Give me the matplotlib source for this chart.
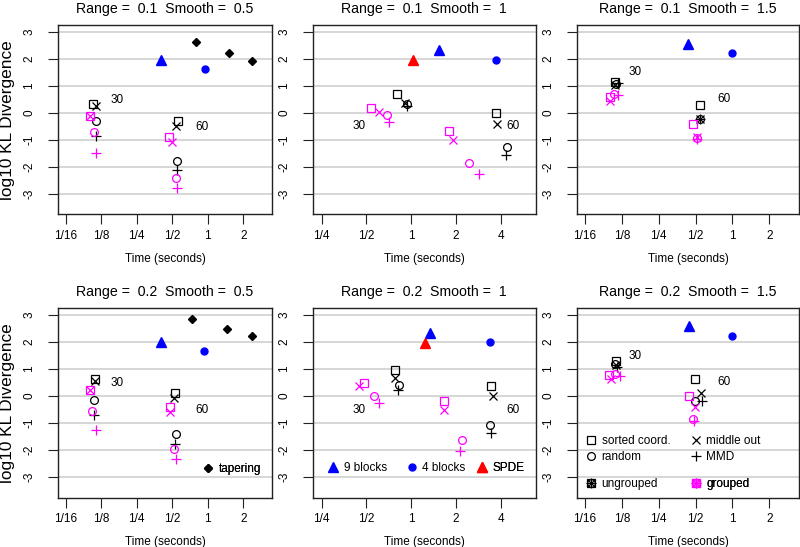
import matplotlib
matplotlib.use("Agg")
import matplotlib.pyplot as plt
from matplotlib.lines import Line2D
from matplotlib.legend_handler import HandlerTuple

plt.rcParams["font.family"] = ["Liberation Sans", "DejaVu Sans"]
plt.rcParams["axes.unicode_minus"] = False

W, H = 800, 547

# panel order: (range, smooth)
ranges = ["0.1", "0.1", "0.1", "0.2", "0.2", "0.2"]
smooths = ["0.5", "1", "1.5", "0.5", "1", "1.5"]

methods = ["sorted coord.", "middle out", "random", "MMD"]

# times (seconds) and log10 KL, each row: sorted, middle out, random, MMD
ung_t30 = [[0.107, 0.113, 0.112, 0.113], [0.805, 0.907, 0.940, 0.930],
           [0.110, 0.110, 0.111, 0.116], [0.111, 0.110, 0.109, 0.109],
           [0.777, 0.781, 0.831, 0.818], [0.111, 0.112, 0.110, 0.113]]
ung_kl30 = [[0.35, 0.24, -0.30, -0.87], [0.71, 0.36, 0.34, 0.24],
            [1.16, 1.05, 1.09, 1.10], [0.64, 0.54, -0.15, -0.72],
            [0.94, 0.67, 0.41, 0.23], [1.29, 1.13, 1.19, 1.07]]
ung_t60 = [[0.563, 0.536, 0.549, 0.549], [3.68, 3.76, 4.38, 4.32],
           [0.543, 0.545, 0.545, 0.545], [0.527, 0.520, 0.538, 0.527],
           [3.41, 3.52, 3.36, 3.43], [0.491, 0.551, 0.491, 0.561]]
ung_kl60 = [[-0.30, -0.50, -1.78, -2.13], [-0.01, -0.40, -1.25, -1.55],
            [0.30, -0.23, -0.23, -0.24], [0.11, -0.08, -1.41, -1.77],
            [0.36, 0.00, -1.09, -1.37], [0.61, 0.12, -0.19, -0.19]]
grp_t30 = [[0.100, 0.100, 0.108, 0.112], [0.539, 0.610, 0.683, 0.712],
           [0.099, 0.099, 0.108, 0.117], [0.0996, 0.0996, 0.104, 0.113],
           [0.483, 0.447, 0.565, 0.603], [0.098, 0.102, 0.109, 0.121]]
grp_kl30 = [[-0.13, -0.13, -0.72, -1.49], [0.18, 0.05, -0.07, -0.32],
            [0.59, 0.45, 0.71, 0.67], [0.23, 0.23, -0.55, -1.27],
            [0.48, 0.35, 0.01, -0.26], [0.78, 0.64, 0.80, 0.72]]
grp_t60 = [[0.473, 0.496, 0.536, 0.546], [1.80, 1.915, 2.44, 2.86],
           [0.480, 0.510, 0.512, 0.512], [0.482, 0.475, 0.514, 0.534],
           [1.666, 1.658, 2.18, 2.13], [0.438, 0.490, 0.480, 0.486]]
grp_kl60 = [[-0.90, -1.08, -2.41, -2.80], [-0.66, -1.00, -1.86, -2.26],
            [-0.40, -0.90, -0.93, -0.95], [-0.41, -0.60, -1.95, -2.32],
            [-0.20, -0.51, -1.63, -2.04], [-0.02, -0.41, -0.84, -0.92]]

# tapering only for smooth = 0.5
taper_t = {0: [0.791, 1.516, 2.39], 3: [0.740, 1.445, 2.38]}
taper_kl = {0: [2.64, 2.24, 1.92], 3: [2.85, 2.48, 2.20]}
blk9_t = [0.402, 1.526, 0.431, 0.404, 1.33, 0.444]
blk9_kl = [1.97, 2.32, 2.55, 2.01, 2.33, 2.57]
blk4_t = [0.949, 3.68, 0.99, 0.928, 3.36, 0.985]
blk4_kl = [1.64, 1.97, 2.21, 1.67, 2.00, 2.21]
spde_t = {1: 1.03, 4: 1.24}
spde_kl = {1: 1.95, 4: 1.95}

# "30" / "60" annotation positions
lab30 = [(0.169, 0.49), (0.447, -0.50), (0.160, 1.50),
         (0.169, 0.48), (0.447, -0.53), (0.160, 1.49)]
lab60 = [(0.90, -0.53), (4.79, -0.50), (0.853, 0.51),
         (0.899, -0.51), (4.79, -0.51), (0.853, 0.51)]

ticks_wide = [1 / 16, 1 / 8, 1 / 4, 1 / 2, 1, 2]
labels_wide = ["1/16", "1/8", "1/4", "1/2", "1", "2"]
ticks_mid = [1 / 4, 1 / 2, 1, 2, 4]
labels_mid = ["1/4", "1/2", "1", "2", "4"]

MAG = "#FF00FF"
BLUE = "#0000FF"
RED = "#FF0000"
SMALL = 8.5

mk = {"s": dict(marker="s", ms=5.2), "x": dict(marker="x", ms=5.6),
      "o": dict(marker="o", ms=5.6), "+": dict(marker="+", ms=7.2)}
mcodes = ["s", "x", "o", "+"]


def open_pts(ax, ts, ks, color):
    for t, k, c in zip(ts, ks, mcodes):
        ax.plot([t], [k], linestyle="None", color=color, mfc="none",
                mew=0.9, **mk[c])


def key(ax, x, y, label, handle):
    leg = ax.legend([handle], [label], loc="center left",
                    bbox_to_anchor=(x, y), frameon=False, borderpad=0,
                    borderaxespad=0, handlelength=0.8, handletextpad=0.5,
                    fontsize=SMALL,
                    handler_map={tuple: HandlerTuple(ndivide=1, pad=0)})
    ax.add_artist(leg)


def combo(color):
    return tuple(Line2D([], [], linestyle="None", color=color, mfc="none",
                        mew=0.9, **mk[c]) for c in mcodes)


fig = plt.figure(figsize=(W / 100, H / 100), dpi=100)
cols = [(58, 272), (313, 535.7), (577, 799)]
rows = [(25, 214.4), (307.7, 497.7)]

for i in range(6):
    r, c = divmod(i, 3)
    x0, x1 = cols[c]
    y0, y1 = rows[r]
    ax = fig.add_axes([x0 / W, 1 - y1 / H, (x1 - x0) / W, (y1 - y0) / H])
    ax.set_xscale("log", base=2)
    if c == 1:
        ax.set_xlim(0.2186, 6.845)
        ax.set_xticks(ticks_mid, labels_mid)
    else:
        ax.set_xlim(0.0537, 3.50)
        ax.set_xticks(ticks_wide, labels_wide)
    ax.minorticks_off()
    ax.set_ylim(-3.76, 3.26)
    ax.set_yticks(range(-3, 4), [str(v) for v in range(-3, 4)])
    for yv in range(-3, 4):
        ax.axhline(yv, color="#cccccc", lw=1.1, zorder=0)
    ax.tick_params(direction="out", length=7.2, width=0.8, labelsize=SMALL,
                   color="#222222")
    ax.tick_params(axis="y", labelrotation=90, pad=9)
    ax.tick_params(axis="x", pad=4)
    for lbl in ax.get_yticklabels():
        lbl.set_va("center")
    for s in ax.spines.values():
        s.set_linewidth(1.0)
        s.set_color("#222222")

    open_pts(ax, ung_t30[i], ung_kl30[i], "black")
    open_pts(ax, ung_t60[i], ung_kl60[i], "black")
    open_pts(ax, grp_t30[i], grp_kl30[i], MAG)
    open_pts(ax, grp_t60[i], grp_kl60[i], MAG)

    if i in taper_t:
        ax.plot(taper_t[i], taper_kl[i], linestyle="None", marker="D",
                ms=3.6, color="black")
    ax.plot([blk9_t[i]], [blk9_kl[i]], linestyle="None", marker="^",
            ms=7.0, color=BLUE)
    ax.plot([blk4_t[i]], [blk4_kl[i]], linestyle="None", marker="o",
            ms=5.0, color=BLUE)
    if i in spde_t:
        ax.plot([spde_t[i]], [spde_kl[i]], linestyle="None", marker="^",
                ms=7.0, color=RED)

    ax.text(*lab30[i], "30", fontsize=SMALL, ha="center", va="center")
    ax.text(*lab60[i], "60", fontsize=SMALL, ha="center", va="center")

    ax.set_title(f"Range =  {ranges[i]}  Smooth =  {smooths[i]}",
                 fontsize=10.2, pad=8.5)
    ax.set_xlabel("Time (seconds)", fontsize=SMALL, labelpad=8)
    if c == 0:
        ax.set_ylabel("log10 KL Divergence", fontsize=12.4, labelpad=6)

    if i == 3:
        key(ax, 0.679, 0.151, "tapering",
            Line2D([], [], linestyle="None", marker="D", ms=3.6,
                   color="black"))
    if i == 4:
        key(ax, 0.070, 0.155, "9 blocks",
            Line2D([], [], linestyle="None", marker="^", ms=7.0, color=BLUE))
        key(ax, 0.4216, 0.155, "4 blocks",
            Line2D([], [], linestyle="None", marker="o", ms=5.0, color=BLUE))
        key(ax, 0.7378, 0.155, "SPDE",
            Line2D([], [], linestyle="None", marker="^", ms=7.0, color=RED))
    if i == 5:
        for j, (name, cm) in enumerate(zip(methods, mcodes)):
            h = Line2D([], [], linestyle="None", color="black", mfc="none",
                       mew=0.9, **mk[cm])
            key(ax, [0.042, 0.5135][j % 2], [0.298, 0.214][j // 2], name, h)
        key(ax, 0.042, 0.0705, "ungrouped", combo("black"))
        key(ax, 0.5135, 0.0705, "grouped", combo(MAG))

fig.savefig("out.png", dpi=100)
